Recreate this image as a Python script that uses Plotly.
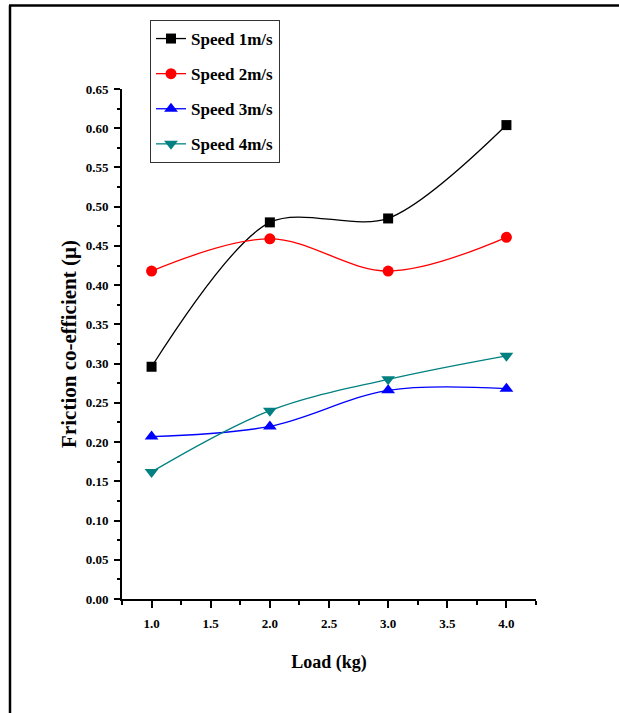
import plotly.graph_objects as go

# ---- data ----
load_kg = [1.0, 2.0, 3.0, 4.0]
speed_1 = [0.296, 0.480, 0.485, 0.604]
speed_2 = [0.418, 0.459, 0.418, 0.461]
speed_3 = [0.207, 0.220, 0.266, 0.268]
speed_4 = [0.162, 0.240, 0.280, 0.310]
series_names = ["Speed 1m/s", "Speed 2m/s", "Speed 3m/s", "Speed 4m/s"]
series_colors = ["#000000", "#FF0000", "#0000FF", "#008080"]
series_symbols = ["square", "circle", "triangle-up", "triangle-down"]
series_sizes = [10, 11, 12, 12]
series_smoothing = [0.85, 1.0, 1.0, 1.0]

W, H = 619, 713
L, R, T, B = 122, 83, 89, 114
PW, PH = W - L - R, H - T - B

def px_x(p):
    return (p - L) / PW

def px_y(p):
    return (H - B - p) / PH

SERIF = "Liberation Serif, Times New Roman, serif"

fig = go.Figure()
for i, (name, ys) in enumerate(zip(series_names, [speed_1, speed_2, speed_3, speed_4])):
    fig.add_trace(go.Scatter(
        x=load_kg, y=ys, name=name, mode="lines+markers",
        line=dict(color=series_colors[i], width=1.3, shape="spline", smoothing=series_smoothing[i]),
        marker=dict(symbol=series_symbols[i], size=series_sizes[i], color=series_colors[i]),
        legendgroup=f"g{i}",
    ))

tickfont = dict(family=SERIF, size=13, color="black", weight="bold")

fig.update_layout(
    width=W, height=H,
    margin=dict(l=L, r=R, t=T, b=B),
    paper_bgcolor="white", plot_bgcolor="white",
    showlegend=True,
    legend=dict(
        x=px_x(150), y=px_y(20), xanchor="left", yanchor="top",
        bordercolor="#333333", borderwidth=1, bgcolor="white",
        font=dict(family=SERIF, size=17, color="black", weight="bold"),
        traceorder="grouped", tracegroupgap=10,
        itemwidth=30,
    ),
    xaxis=dict(
        range=[0.75, 4.25], tick0=0, dtick=0.5, tickformat=".1f",
        showline=True, linecolor="black", linewidth=2, mirror=False,
        showgrid=False, zeroline=False,
        ticks="outside", ticklen=7, tickwidth=2, tickcolor="black",
        ticklabelstandoff=4,
        minor=dict(dtick=0.25, ticks="outside", ticklen=4, tickwidth=1.5, tickcolor="black", showgrid=False),
        tickfont=tickfont,
        title=dict(text="Load (kg)", standoff=26,
                   font=dict(family=SERIF, size=18, color="black", weight="bold")),
    ),
    yaxis=dict(
        range=[0, 0.65], tick0=0, dtick=0.05, tickformat=".2f",
        showline=True, linecolor="black", linewidth=2, mirror=False,
        showgrid=False, zeroline=False,
        ticks="outside", ticklen=6, tickwidth=2, tickcolor="black",
        ticklabelstandoff=3,
        minor=dict(dtick=0.025, ticks="outside", ticklen=3, tickwidth=1.5, tickcolor="black", showgrid=False),
        tickfont=tickfont,
        title=dict(text="Friction co-efficient (μ)", standoff=3,
                   font=dict(family=SERIF, size=21, color="black", weight="bold")),
    ),
    shapes=[
        dict(type="line", xref="paper", yref="paper",
             x0=px_x(9), x1=px_x(619), y0=px_y(5.5), y1=px_y(5.5),
             line=dict(color="black", width=2.5)),
        dict(type="line", xref="paper", yref="paper",
             x0=px_x(10), x1=px_x(10), y0=px_y(5.5), y1=px_y(713),
             line=dict(color="black", width=2.5)),
    ],
)

fig.write_html("out.html")
